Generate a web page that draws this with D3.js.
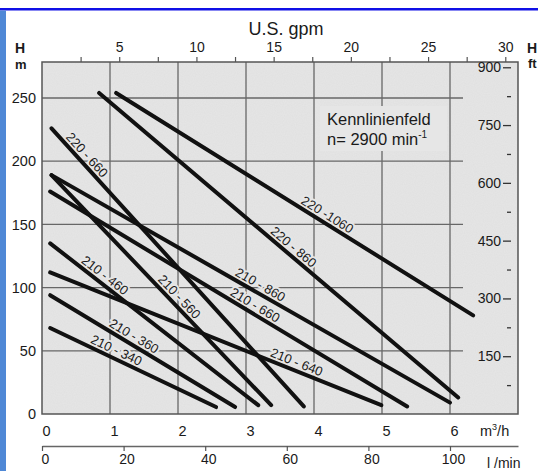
<!DOCTYPE html>
<html>
<head>
<meta charset="utf-8">
<script src="https://cdn.jsdelivr.net/npm/d3@7"></script>
<style>
  html, body { margin: 0; padding: 0; background: #fff; }
  svg { display: block; }
  text { font-family: "Liberation Sans", Arial, Helvetica, sans-serif; fill: #1a1a1a; }
</style>
</head>
<body>
<svg id="chart" width="538" height="471"></svg>
<script>
// ---------- data ----------
const flowTicks = [0, 1, 2, 3, 4, 5, 6];                 // m³/h
const headTicks = [0, 50, 100, 150, 200, 250];           // m
const gpmTicks = [2.5, 5, 7.5, 10, 12.5, 15, 17.5, 20, 22.5, 25, 27.5, 30];
const gpmLabels = [5, 10, 15, 20, 25, 30];
const ftTicks = [150, 300, 450, 600, 750, 900];
const ftMinorTicks = [75, 225, 375, 525, 675, 825];
const lminTicks = [0, 20, 40, 60, 80, 100];

const curveNames = ["220 -1060", "220 - 860", "220 - 660", "210 - 860", "210 - 660",
                    "210 - 640", "210 - 560", "210 - 460", "210 - 360", "210 - 340"];
const curveFlow = [[1.09, 6.34], [0.84, 6.12], [0.14, 3.85], [0.14, 6.0], [0.12, 5.37],
                   [0.12, 4.99], [0.14, 3.37], [0.12, 3.18], [0.12, 2.84], [0.12, 2.56]];
const curveHead = [[254, 78], [254, 13], [226, 6], [189, 9], [176, 6],
                   [112, 7], [189, 7], [135, 7], [94, 5.5], [68, 5.5]];
const labelFlow = [4.13, 3.62, 0.57, 3.15, 3.07, 3.7, 1.93, 0.85, 1.29, 1.04];

const legendLine1 = "Kennlinienfeld";
const legendLine2 = "n= 2900 min";
const legendSup = "-1";

// ---------- layout ----------
const W = 538, H = 471;
const pL = 42, pR = 518, pT = 62, pB = 414;
const plotBg = "#e6e6e6";
const gridCol = "#676767";

const svg = d3.select("#chart");

// blue frame
svg.append("rect").attr("x", 0).attr("y", 8).attr("width", W).attr("height", 2.5).attr("fill", "#1010e6");
svg.append("rect").attr("x", 0).attr("y", 10.5).attr("width", 6).attr("height", H - 10).attr("fill", "#4f88d6");

// scales
const x = d3.scaleLinear().domain([0, 7]).range([pL, pR]);
const y = d3.scaleLinear().domain([0, 278.5]).range([pB, pT]);
const xGpm = d3.scaleLinear().domain([0, 7 / 0.2271]).range([pL, pR]);
const yFt = d3.scaleLinear().domain([0, 278.5 / 0.3048]).range([pB, pT]);
const xLmin = d3.scaleLinear().domain([0, 7 / 0.06]).range([pL, pR]);

// plot background with slight grain
const defs = svg.append("defs");
const filt = defs.append("filter").attr("id", "grain").attr("x", 0).attr("y", 0).attr("width", 1).attr("height", 1);
filt.append("feTurbulence").attr("type", "fractalNoise").attr("baseFrequency", 0.9).attr("numOctaves", 1).attr("seed", 3).attr("result", "n");
filt.append("feColorMatrix").attr("in", "n").attr("type", "matrix")
  .attr("values", "0 0 0 0 0  0 0 0 0 0  0 0 0 0 0  0 0 0 0.08 0").attr("result", "a");
filt.append("feComposite").attr("in", "a").attr("in2", "SourceGraphic").attr("operator", "in");

svg.append("rect").attr("x", pL).attr("y", pT).attr("width", pR - pL).attr("height", pB - pT)
  .attr("fill", plotBg);
svg.append("rect").attr("x", pL).attr("y", pT).attr("width", pR - pL).attr("height", pB - pT)
  .attr("fill", "#000").attr("filter", "url(#grain)").attr("opacity", 0.35);

// grid
const grid = svg.append("g");
grid.selectAll("line.v").data(flowTicks.filter(d => d > 0)).join("line")
  .attr("x1", d => x(d)).attr("x2", d => x(d)).attr("y1", pT).attr("y2", pB)
  .attr("stroke", gridCol).attr("stroke-width", 1.3);
grid.selectAll("line.h").data(headTicks.filter(d => d > 0)).join("line")
  .attr("x1", pL).attr("x2", 463).attr("y1", d => y(d)).attr("y2", d => y(d))
  .attr("stroke", gridCol).attr("stroke-width", 1.3);

// legend box (masks grid)
svg.append("rect").attr("x", 320).attr("y", 106).attr("width", 127).attr("height", 45).attr("fill", plotBg);
svg.append("text").attr("x", 327).attr("y", 125).attr("font-size", 16.5).text(legendLine1);
const l2 = svg.append("text").attr("x", 327).attr("y", 145).attr("font-size", 16.5).text(legendLine2);
l2.append("tspan").attr("font-size", 10).attr("dy", -7).text(legendSup);

// plot border
svg.append("rect").attr("x", pL).attr("y", pT).attr("width", pR - pL).attr("height", pB - pT)
  .attr("fill", "none").attr("stroke", "#555").attr("stroke-width", 1.5);

// curve labels (with halo to mask grid)
const labels = svg.append("g");
curveNames.forEach((name, i) => {
  const [q0, q1] = curveFlow[i];
  const [h0, h1] = curveHead[i];
  const px0 = x(q0), py0 = y(h0), px1 = x(q1), py1 = y(h1);
  const ang = Math.atan2(py1 - py0, px1 - px0);
  const lq = labelFlow[i];
  const t = (lq - q0) / (q1 - q0);
  const fx = px0 + t * (px1 - px0), fy = py0 + t * (py1 - py0);
  const d = 8.5;
  const cx = fx + d * Math.sin(ang), cy = fy - d * Math.cos(ang);
  labels.append("text")
    .attr("transform", `translate(${cx},${cy}) rotate(${ang * 180 / Math.PI})`)
    .attr("text-anchor", "middle").attr("dominant-baseline", "central")
    .attr("font-size", 13)
    .attr("stroke", plotBg).attr("stroke-width", 4).attr("paint-order", "stroke")
    .text(name);
});

// curves
const line = d3.line().x(d => x(d[0])).y(d => y(d[1]));
svg.append("g").selectAll("path").data(curveNames.map((n, i) => [
    [curveFlow[i][0], curveHead[i][0]], [curveFlow[i][1], curveHead[i][1]]]))
  .join("path")
  .attr("d", line)
  .attr("fill", "none").attr("stroke", "#111").attr("stroke-width", 4).attr("stroke-linecap", "round");

// left axis (m)
const gL = svg.append("g").attr("transform", `translate(${pL},0)`)
  .call(d3.axisLeft(y).tickValues(headTicks).tickSize(0).tickPadding(6).tickFormat(d3.format("d")));
gL.select(".domain").remove();
gL.selectAll("text").attr("font-size", 14.5).attr("fill", "#1a1a1a").attr("font-family", null);

// bottom axis (m³/h)
const gB = svg.append("g").attr("transform", `translate(0,${pB})`)
  .call(d3.axisBottom(x).tickValues(flowTicks).tickSize(0).tickPadding(12).tickFormat(d3.format("d")));
gB.select(".domain").remove();
gB.selectAll("text").attr("font-size", 14.5).attr("fill", "#1a1a1a").attr("font-family", null).attr("dx", 4);
const mh = svg.append("text").attr("x", 480).attr("y", 436).attr("font-size", 14.5).text("m");
mh.append("tspan").attr("font-size", 9).attr("dy", -6).text("3");
mh.append("tspan").attr("dy", 6).text("/h");

// top axis (US gpm)
const gT = svg.append("g").attr("transform", `translate(0,${pT})`)
  .call(d3.axisTop(xGpm).tickValues(gpmTicks).tickSizeInner(5).tickSizeOuter(0).tickPadding(5)
    .tickFormat(d => gpmLabels.includes(d) ? d : ""));
gT.select(".domain").remove();
gT.selectAll("line").attr("stroke", "#555").attr("stroke-width", 1.2);
gT.selectAll("text").attr("font-size", 14).attr("fill", "#1a1a1a").attr("font-family", null);
svg.append("text").attr("x", 286).attr("y", 35).attr("text-anchor", "middle").attr("font-size", 18).text("U.S. gpm");

// right axis (ft), drawn inside the plot
const gR = svg.append("g").attr("transform", "translate(511,0)")
  .call(d3.axisLeft(yFt).tickValues(ftTicks).tickSizeInner(8).tickSizeOuter(0).tickPadding(2));
gR.select(".domain").remove();
gR.selectAll("line").attr("stroke", "#333").attr("stroke-width", 1.3);
gR.selectAll("text").attr("font-size", 14).attr("fill", "#1a1a1a").attr("font-family", null);
const gR2 = svg.append("g").attr("transform", "translate(511,0)")
  .call(d3.axisLeft(yFt).tickValues(ftMinorTicks).tickSizeInner(4).tickSizeOuter(0).tickFormat(""));
gR2.select(".domain").remove();
gR2.selectAll("line").attr("stroke", "#333").attr("stroke-width", 1.3);

// l/min axis
const gLm = svg.append("g").attr("transform", "translate(0,446)")
  .call(d3.axisBottom(xLmin).tickValues(lminTicks).tickSizeInner(5).tickSizeOuter(0).tickPadding(3));
gLm.select(".domain").attr("stroke", "#666").attr("stroke-width", 1.3);
gLm.selectAll("line").attr("stroke", "#555").attr("stroke-width", 1.2);
gLm.selectAll("text").attr("font-size", 14).attr("fill", "#1a1a1a").attr("font-family", null).attr("dx", 3);
svg.append("text").attr("x", 487).attr("y", 468).attr("font-size", 14).text("l /min");

// axis unit labels
svg.append("text").attr("x", 15).attr("y", 53).attr("font-size", 14).attr("font-weight", "bold").text("H");
svg.append("text").attr("x", 15).attr("y", 69).attr("font-size", 13).attr("font-weight", "bold").text("m");
svg.append("text").attr("x", 527).attr("y", 53).attr("font-size", 14).attr("font-weight", "bold").text("H");
svg.append("text").attr("x", 528).attr("y", 68).attr("font-size", 13).attr("font-weight", "bold").text("ft");
</script>
</body>
</html>
